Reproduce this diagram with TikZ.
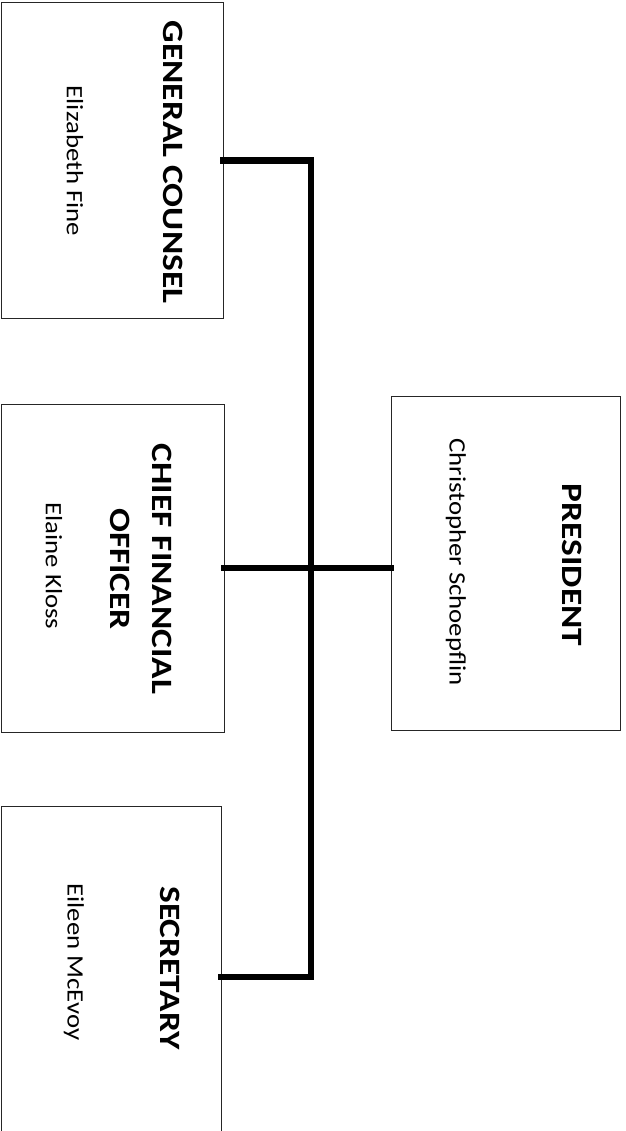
\documentclass[tikz,border=0pt]{standalone}
\usepackage{fontspec}
\setmainfont{Carlito}
\newfontfamily\titlefont[FakeStretch=1.2]{Carlito}
\newfontfamily\namefont[FakeStretch=1.14]{Carlito}
\begin{document}
\begin{tikzpicture}[x=1pt,y=-1pt,
  box/.style={draw=black!85,line width=1pt,minimum width=#1,inner sep=0pt,rectangle},
  title/.style={rotate=-90,font=\titlefont\fontsize{29.5}{42}\selectfont\bfseries,align=center,inner sep=0pt},
  pname/.style={rotate=-90,font=\namefont\fontsize{23.5}{26}\selectfont,inner sep=0pt},
  link/.style={line width=6.5pt,line cap=rect}]
\useasboundingbox (0,0) rectangle (625,1131);
\clip (0,0) rectangle (625,1131);
% boxes
\node[box=222pt,minimum height=315pt] (gc) at (112,160.5) {};
\node[box=223pt,minimum height=328pt] (cfo) at (112.5,568) {};
\node[box=220pt,minimum height=342pt] (sec) at (111,977) {};
\node[box=229pt,minimum height=334pt] (pres) at (505.5,563) {};
% texts
\node[title] (gct) at (173,162) {GENERAL COUNSEL};
\node[pname] (gcn) at (75,161) {Elizabeth Fine};
\node[title] (cfot) at (141,569) {CHIEF FINANCIAL\\OFFICER};
\node[pname] (cfon) at (54,566) {Elaine Kloss};
\node[title] (sect) at (170,968) {SECRETARY};
\node[pname] (secn) at (74,962) {Eileen McEvoy};
\node[title] (prest) at (572,565) {PRESIDENT};
\node[pname] (presn) at (456,562) {Christopher Schoepflin};
% connectors
\coordinate (vt) at (311,160.5);
\coordinate (vb) at (311,977);
\draw[link] (gc.east) -- (vt) -- (vb) -- (sec.east);
\draw[link] (cfo.east) -- (cfo.east -| pres.west);
\end{tikzpicture}
\end{document}
